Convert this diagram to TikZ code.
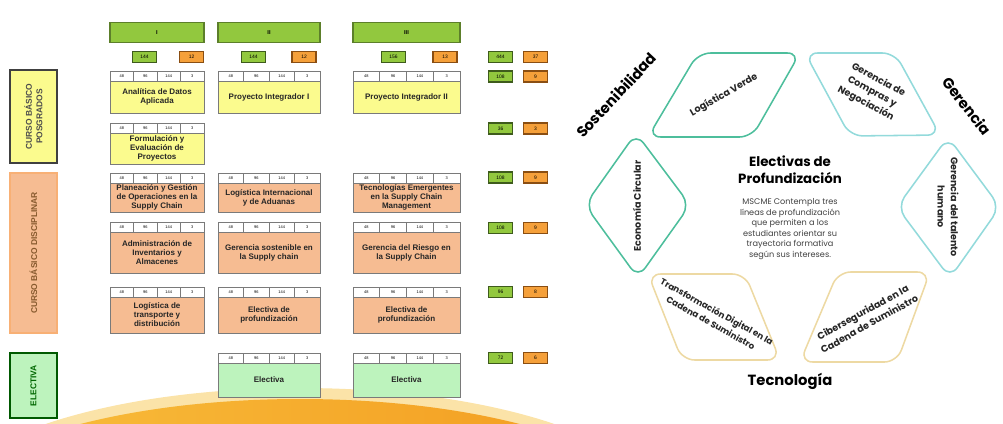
\documentclass[tikz,border=0pt]{standalone}
\usepackage{fontspec}
\setmainfont{Liberation Sans}
\newfontfamily\gothic{Poppins}
\definecolor{verdebar}{HTML}{92C83E}
\definecolor{verdebord}{HTML}{5C7F2A}
\definecolor{verdeosc}{HTML}{3E5B1C}
\definecolor{naranjabar}{HTML}{F5A03A}
\definecolor{naranjaosc}{HTML}{8A4E12}
\definecolor{amarillo}{HTML}{FBFB8E}
\definecolor{salmon}{HTML}{F6BC92}
\definecolor{verdeclaro}{HTML}{BDF3BD}
\definecolor{grisborde}{HTML}{7A7A7A}
\definecolor{sosten}{HTML}{4DBE9C}
\definecolor{geren}{HTML}{93DADB}
\definecolor{tecno}{HTML}{EDD9A3}
\definecolor{fondoA}{HTML}{F8C03E}
\definecolor{fondoB}{HTML}{F39A1E}
\definecolor{borde}{HTML}{FBE3A8}

\begin{document}
\begin{tikzpicture}[x=0.025cm, y=-0.025cm,
        barra/.style={draw=verdebord, fill=verdebar, line width=0.8pt, inner sep=0, minimum height=0.52cm, font=\bfseries\fontsize{4}{5}\selectfont},
        cajav/.style={draw=verdeosc, fill=verdebar, line width=1pt, inner sep=0, minimum width=0.6cm, minimum height=0.28cm, font=\fontsize{3.5}{4}\selectfont},
        cajan/.style={draw=naranjaosc, fill=naranjabar, line width=1pt, inner sep=0, minimum width=0.6cm, minimum height=0.28cm, font=\fontsize{3.5}{4}\selectfont},
        cuerpo/.style={draw=grisborde, line width=0.6pt},
        celda/.style={draw=grisborde, fill=white, line width=0.4pt, inner sep=0, minimum height=0.25cm, font=\fontsize{2.8}{3}\selectfont},
        curso/.style={align=center, inner sep=0, text=black!85, font=\bfseries\fontsize{5.7}{6.4}\selectfont},
        etiq/.style={rotate=90, align=center, inner sep=0, font=\bfseries\fontsize{6}{7.4}\selectfont},
        rombo/.style={line width=1.1pt, rounded corners=9pt},
        trombo/.style={align=center, inner sep=0, text=black!85, font=\gothic\bfseries\fontsize{6.8}{9.5}\selectfont},
        eje/.style={inner sep=0, font=\gothic\bfseries\fontsize{10.5}{12}\selectfont}]
                \useasboundingbox (0,0) rectangle (1003,423);
                \begin{scope}
                    \clip (0,0) rectangle (1003,423);
                    \fill[borde] (300,516) ellipse (366 and 128);
                    \shade[left color=fondoA, right color=fondoB] (300,521) ellipse (362 and 122);
                \end{scope}
                \draw[line width=1pt, draw=black!75, fill=amarillo] (10,70) rectangle (57,163);
                \draw[line width=1pt, draw=salmon!80!orange, fill=salmon] (10,173) rectangle (57,333);
                \draw[line width=1pt, draw=green!35!black, fill=verdeclaro] (10,353) rectangle (57,418);
                \node[etiq, text=black!70] (posg) at (33.5,116.5) {CURSO BÁSICO\\POSGRADOS};
                \node[etiq, text=brown!70!black] (disc) at (33.5,253) {CURSO BÁSICO DISCIPLINAR};
                \node[etiq, text=green!40!black] (elec) at (33.5,385.5) {ELECTIVA};
                \node[barra, minimum width=2.35cm] (sem1) at (157,32.5) {I};
                \node[barra, minimum width=2.55cm] (sem2) at (269,32.5) {II};
                \node[barra, minimum width=2.675cm] (sem3) at (406.5,32.5) {III};
                \node[cajav] (hv1) at (144.5,57) {144};
                \node[cajan] (hn1) at (191.5,57) {12};
                \node[cajav] (hv2) at (253.5,57) {144};
                \node[cajan] (hn2) at (304,57) {12};
                \node[cajav] (hv3) at (393.5,57) {156};
                \node[cajan] (hn3) at (445,57) {13};
                \node[cajav] (tv0) at (500.5,57) {444};
                \node[cajan] (tn0) at (535.5,57) {37};
                \node[cajav] (tv1) at (500.5,76.5) {108};
                \node[cajan] (tn1) at (535.5,76.5) {9};
                \node[cajav] (tv2) at (500.5,128.5) {36};
                \node[cajan] (tn2) at (535.5,128.5) {3};
                \node[cajav] (tv3) at (500.5,177.5) {108};
                \node[cajan] (tn3) at (535.5,177.5) {9};
                \node[cajav] (tv4) at (500.5,228) {108};
                \node[cajan] (tn4) at (535.5,228) {9};
                \node[cajav] (tv5) at (500.5,292) {96};
                \node[cajan] (tn5) at (535.5,292) {8};
                \node[cajav] (tv6) at (500.5,358) {72};
                \node[cajan] (tn6) at (535.5,358) {6};
                \foreach \nm/\xa/\xb/\ya/\yb/\col/\txt in {
                    ana/110/204/71/113/amarillo/{Analítica de Datos\\Aplicada},
                    pia/218/320/71/113/amarillo/{Proyecto Integrador I},
                    pib/353/460/71/113/amarillo/{Proyecto Integrador II},
                    fep/110/204/123/164/amarillo/{Formulación y\\Evaluación de\\Proyectos},
                    pgo/110/204/173/212/salmon/{Planeación y Gestión\\de Operaciones en la\\Supply Chain},
                    lia/218/320/173/212/salmon/{Logística Internacional\\y de Aduanas},
                    tem/353/460/173/212/salmon/{Tecnologías Emergentes\\en la Supply Chain\\Management},
                    aia/110/204/222/273/salmon/{Administración de\\Inventarios y\\Almacenes},
                    gss/218/320/222/273/salmon/{Gerencia sostenible en\\la Supply chain},
                    grs/353/460/222/273/salmon/{Gerencia del Riesgo en\\la Supply Chain},
                    ltd/110/204/287/333/salmon/{Logística de\\transporte y\\distribución},
                    epa/218/320/287/333/salmon/{Electiva de\\profundización},
                    epb/353/460/287/333/salmon/{Electiva de\\profundización},
                    ela/218/320/353/397/verdeclaro/{Electiva},
                    elb/353/460/353/397/verdeclaro/{Electiva}}{
                    \draw[cuerpo, fill=\col] (\xa,\ya) rectangle (\xb,\yb);
                    \foreach \k/\v in {0/48,1/96,2/144,3/3}
                        \node[celda, minimum width={(\xb-\xa)/4*0.025cm}] (\nm\k) at ({\xa+(\k+0.5)*(\xb-\xa)/4},{\ya+5}) {\v};
                    \node[curso] (\nm) at ({(\xa+\xb)/2},{(\ya+10+\yb)/2}) {\txt};
                }
                \draw[rombo, draw=sosten] (749,53) -- (800,53) -- (752,137) -- (648,137) -- (698,53) -- cycle;
                \draw[rombo, draw=geren] (850,53) -- (895,53) -- (940,135) -- (850,136) -- (805,53) -- cycle;
                \draw[rombo, draw=sosten] (663,169) -- (690,205) -- (638,278) -- (585,205) -- (636,133) -- cycle;
                \draw[rombo, draw=geren] (974,172) -- (1000,207) -- (950,278) -- (897,207) -- (948,137) -- cycle;
                \draw[rombo, draw=tecno] (697,274) -- (745,274) -- (780,360) -- (682,360) -- (648,274) -- cycle;
                \draw[rombo, draw=tecno] (884,272) -- (930,272) -- (897,362) -- (800,362) -- (838,272) -- cycle;
                \node[trombo, rotate=30] (lv) at (724,95) {Logística Verde};
                \node[trombo, rotate=-28] (gc) at (872,92) {Gerencia de\\Compras y\\Negociación};
                \node[trombo, rotate=90] (ec) at (637,206) {Economía Circular};
                \node[trombo, rotate=-90] (gt) at (948,207) {Gerencia del talento\\humano};
                \node[trombo, rotate=-29, font=\gothic\bfseries\fontsize{6.2}{9}\selectfont] (td) at (714,317) {Transformación Digital en la\\Cadena de Suministro};
                \node[trombo, rotate=29] (cs) at (866,318) {Ciberseguridad en la\\Cadena de Suministro};
                \node[eje, rotate=47] (sost) at (616,95) {Sostenibilidad};
                \node[eje, rotate=-52] (ger) at (967,106) {Gerencia};
                \node[eje] (tec) at (790,381) {Tecnología};
                \node[align=center, inner sep=0, font=\gothic\bfseries\fontsize{9.5}{12}\selectfont] (tit) at (790,170) {Electivas de\\Profundización};
                \node[align=center, inner sep=0, text=black!75, font=\gothic\fontsize{5.8}{7.5}\selectfont] (txt) at (790,229) {MSCME Contempla tres\\líneas de profundización\\que permiten a los\\estudiantes orientar su\\trayectoria formativa\\según sus intereses.};
            \end{tikzpicture}
\end{document}
